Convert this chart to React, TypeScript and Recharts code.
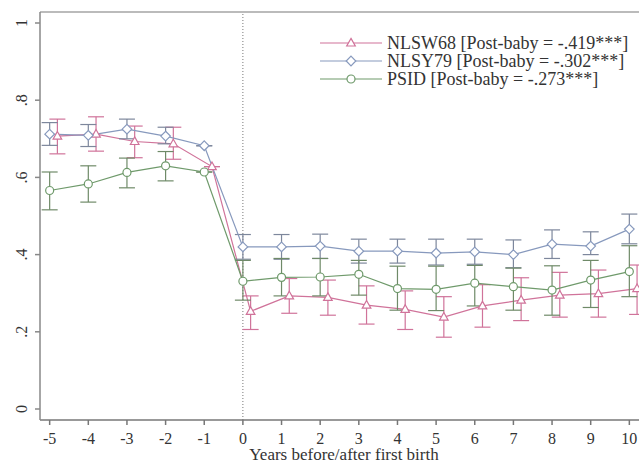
import { LineChart, Line, XAxis, YAxis, ErrorBar, ReferenceLine } from "recharts";

const YEARS = [-5, -4, -3, -2, -1, 0, 1, 2, 3, 4, 5, 6, 7, 8, 9, 10];
const Y_TICKS = [0, 0.2, 0.4, 0.6, 0.8, 1];
const Y_TICK_LABELS = ["0", ".2", ".4", ".6", ".8", "1"];

// NLSW68 (drawn shifted right a little, as in the original)
const NLSW68 = [0.707, 0.712, 0.693, 0.687, 0.628, 0.253, 0.293, 0.289, 0.269, 0.258, 0.238, 0.267, 0.282, 0.295, 0.299, 0.312];
const NLSW68_LO = [0.661, 0.668, 0.651, 0.647, 0.628, 0.206, 0.248, 0.243, 0.22, 0.206, 0.186, 0.212, 0.229, 0.238, 0.238, 0.245];
const NLSW68_HI = [0.751, 0.757, 0.733, 0.73, 0.628, 0.293, 0.338, 0.334, 0.319, 0.306, 0.291, 0.322, 0.34, 0.354, 0.36, 0.373];

const NLSY79 = [0.712, 0.709, 0.725, 0.707, 0.682, 0.42, 0.42, 0.422, 0.409, 0.409, 0.404, 0.407, 0.4, 0.427, 0.422, 0.466];
const NLSY79_LO = [0.683, 0.68, 0.7, 0.687, 0.682, 0.388, 0.388, 0.39, 0.378, 0.378, 0.373, 0.375, 0.366, 0.39, 0.4, 0.428];
const NLSY79_HI = [0.742, 0.737, 0.751, 0.73, 0.682, 0.452, 0.452, 0.453, 0.44, 0.44, 0.44, 0.44, 0.438, 0.464, 0.459, 0.505];

const PSID = [0.566, 0.583, 0.613, 0.63, 0.614, 0.331, 0.341, 0.342, 0.349, 0.312, 0.31, 0.326, 0.317, 0.308, 0.334, 0.356];
const PSID_LO = [0.516, 0.536, 0.573, 0.591, 0.614, 0.282, 0.293, 0.293, 0.295, 0.256, 0.255, 0.267, 0.256, 0.243, 0.263, 0.291];
const PSID_HI = [0.614, 0.63, 0.65, 0.667, 0.614, 0.385, 0.39, 0.39, 0.385, 0.37, 0.37, 0.372, 0.365, 0.371, 0.385, 0.423];

const LEGEND_LABELS = [
  "NLSW68 [Post-baby = -.419***]",
  "NLSY79 [Post-baby = -.302***]",
  "PSID [Post-baby = -.273***]",
];

const PINK = "#d0739a";
const BLUE = "#8799bd";
const GREEN = "#6f9a6b";
const PINK_SHIFT = 0.2;
const FONT = "Liberation Serif, Tinos, DejaVu Serif, serif";

const build = (vals: number[], lo: number[], hi: number[], shift: number) =>
  YEARS.map((t, i) => ({ x: t + shift, y: vals[i], err: [vals[i] - lo[i], hi[i] - vals[i]] }));

const pinkData = build(NLSW68, NLSW68_LO, NLSW68_HI, PINK_SHIFT);
const blueData = build(NLSY79, NLSY79_LO, NLSY79_HI, 0);
const greenData = build(PSID, PSID_LO, PSID_HI, 0);

function Marker({ cx, cy, kind, color }: { cx: number; cy: number; kind: string; color: string }) {
  if (kind === "tri")
    return <path d={`M${cx},${cy - 4.6} L${cx + 4.3},${cy + 3} L${cx - 4.3},${cy + 3} Z`} fill="#fff" stroke={color} strokeWidth={1.2} />;
  if (kind === "dia")
    return <path d={`M${cx},${cy - 4.8} L${cx + 4.8},${cy} L${cx},${cy + 4.8} L${cx - 4.8},${cy} Z`} fill="#fff" stroke={color} strokeWidth={1.2} />;
  return <circle cx={cx} cy={cy} r={4} fill="#fff" stroke={color} strokeWidth={1.2} />;
}

const dotFor = (kind: string, color: string) => (p: any) =>
  p.cx == null ? <g key={`${kind}-${p.index}`} /> : (
    <g key={`${kind}-${p.index}`}>
      <Marker cx={p.cx} cy={p.cy} kind={kind} color={color} />
    </g>
  );

function YTick({ x, y, payload }: any) {
  const i = Y_TICKS.indexOf(payload.value);
  const bx = x - 6;
  return (
    <text x={bx} y={y} transform={`rotate(-90 ${bx} ${y})`} textAnchor="middle" fontSize={16} fill="#333" style={{ fontFamily: FONT }}>
      {Y_TICK_LABELS[i]}
    </text>
  );
}

function XTick({ x, y, payload }: any) {
  return (
    <text x={x} y={y} dy={11} textAnchor="middle" fontSize={16} fill="#333" style={{ fontFamily: FONT }}>
      {payload.value}
    </text>
  );
}

const SERIES = [
  { color: PINK, kind: "tri" },
  { color: BLUE, kind: "dia" },
  { color: GREEN, kind: "circ" },
];

export default function App() {
  return (
    <div style={{ position: "absolute", left: 0, top: 0, width: 639, height: 463, background: "#fff", overflow: "hidden", fontFamily: FONT }}>
      <LineChart width={639} height={463} margin={{ top: 12, right: 0, bottom: 0, left: 0 }} style={{ fontFamily: FONT }}>
        <XAxis
          dataKey="x"
          type="number"
          domain={[-5.25, 10.25]}
          ticks={YEARS}
          allowDataOverflow
          height={43}
          tickSize={5}
          tickMargin={8}
          stroke="#777"
          strokeWidth={1.5}
          tick={<XTick />}
        />
        <YAxis
          type="number"
          domain={[-0.0285, 1.0285]}
          ticks={Y_TICKS}
          allowDataOverflow
          width={40}
          tickSize={5}
          tickMargin={2}
          stroke="#888"
          strokeWidth={1.5}
          tick={<YTick />}
        />
        <ReferenceLine y={1.0285} stroke="#bbb" strokeWidth={2} />
        <ReferenceLine x={0} stroke="#777" strokeDasharray="1 2" />
        <Line data={pinkData} dataKey="y" stroke={PINK} strokeWidth={1.2} dot={dotFor("tri", PINK)} isAnimationActive={false}>
          <ErrorBar dataKey="err" direction="y" width={8} stroke={PINK} strokeWidth={1.2} />
        </Line>
        <Line data={blueData} dataKey="y" stroke={BLUE} strokeWidth={1.2} dot={dotFor("dia", BLUE)} isAnimationActive={false}>
          <ErrorBar dataKey="err" direction="y" width={8} stroke="#7d879c" strokeWidth={1.2} />
        </Line>
        <Line data={greenData} dataKey="y" stroke={GREEN} strokeWidth={1.2} dot={dotFor("circ", GREEN)} isAnimationActive={false}>
          <ErrorBar dataKey="err" direction="y" width={8} stroke="#6f8a68" strokeWidth={1.2} />
        </Line>
      </LineChart>

      {LEGEND_LABELS.map((label, i) => (
        <div
          key={label}
          style={{ position: "absolute", left: 320, top: 42.7 + i * 18.3 - 9, height: 18, display: "flex", alignItems: "center" }}
        >
          <svg width={62} height={12} style={{ display: "block" }}>
            <line x1={0} y1={6} x2={62} y2={6} stroke={SERIES[i].color} strokeWidth={1.2} />
            <Marker cx={31} cy={6} kind={SERIES[i].kind} color={SERIES[i].color} />
          </svg>
          <span style={{ marginLeft: 5, fontFamily: FONT, fontSize: 18, color: "#333", whiteSpace: "nowrap", lineHeight: "18px" }}>
            {label}
          </span>
        </div>
      ))}

      <div
        style={{ position: "absolute", left: 0, width: 688, top: 447, height: 16, textAlign: "center", fontFamily: FONT, fontSize: 17, lineHeight: "15px", color: "#333" }}
      >
        Years before/after first birth
      </div>
    </div>
  );
}
